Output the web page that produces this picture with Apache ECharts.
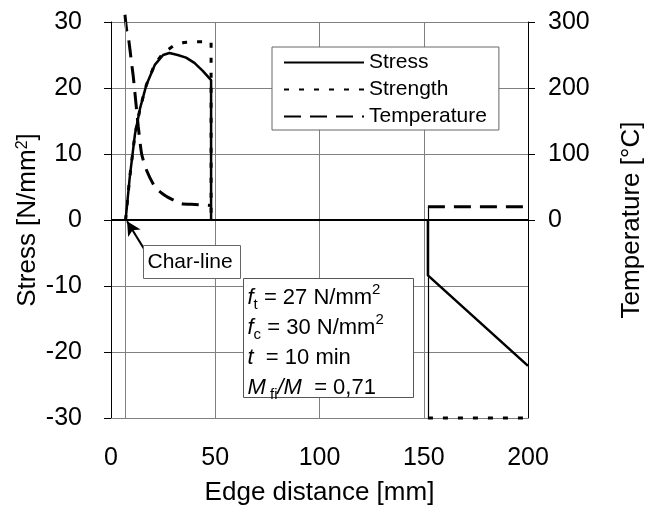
<!DOCTYPE html>
<html>
<head>
<meta charset="utf-8">
<script src="https://cdn.jsdelivr.net/npm/echarts@6/dist/echarts.min.js"></script>
<style>
  html, body { margin: 0; padding: 0; background: #fff; }
  #chart { width: 645px; height: 514px; }
</style>
</head>
<body>
<div id="chart"></div>
<script>
// edge distance [mm] / stress [N/mm2] / temperature [°C]
const stressLeftX = [7, 9, 11.5, 14, 17, 21, 25, 28, 32, 36, 40, 44, 48, 48]
const stressLeftY = [0, 6.5, 13, 17, 20.5, 23.5, 25, 25.3, 25, 24.6, 23.8, 22.6, 21.2, 0]
const stressRightX = [152, 152, 200]
const stressRightY = [0, -8.4, -22.1]

const strengthLeftX = [7, 9, 11.5, 14, 17, 21, 25, 30, 35, 40, 48, 48]
const strengthLeftY = [0, 6.5, 13, 17, 20.5, 23.6, 25.3, 26.4, 26.9, 27, 27, 0]
const strengthRightX = [152, 200]
const strengthRightY = [-30, -30]

const tempLeftX = [6.7, 7.5, 8.3, 9.9, 10.7, 12.3, 13.1, 14.7, 17.1, 21.1, 25.9, 30, 33.9, 40.3, 48]
const tempLeftY = [311, 288, 278, 237, 217, 166, 141, 100, 75, 50, 37, 30, 24.6, 23.5, 22]
const tempRightX = [152, 200]
const tempRightY = [20, 20]

const charLineX = 7
const tempTicks = [0, 100, 200, 300]

const FONT = 'Liberation Sans, Arial, sans-serif'
const GRID_COLOR = '#808080'

const pairs = (xs, ys) => xs.map((x, i) => [x, ys[i]])

const chart = echarts.init(document.getElementById('chart'))

const stressStyle = { color: '#000', width: 2.5, type: 'solid' }
const strengthStyle = { color: '#000', width: 3, type: [5, 10] }
const tempStyle = { color: '#000', width: 3, type: [17, 9] }

const option = {
  animation: false,
  textStyle: { fontFamily: FONT },
  grid: { left: 111, right: 117, top: 22, bottom: 96, outerBoundsMode: 'none' },
  legend: {
    data: ['Stress', 'Strength', 'Temperature'],
    orient: 'vertical',
    left: 272,
    top: 47,
    padding: [5, 12, 3, 11],
    itemWidth: 80,
    itemHeight: 14,
    itemGap: 6,
    backgroundColor: '#fff',
    borderColor: '#666',
    borderWidth: 1,
    borderRadius: 0,
    itemStyle: { opacity: 0 },
    textStyle: { fontSize: 21, color: '#000', fontFamily: FONT, lineHeight: 20 }
  },
  xAxis: {
    type: 'value',
    min: 0,
    max: 200,
    interval: 50,
    name: 'Edge distance [mm]',
    nameLocation: 'middle',
    nameGap: 62,
    nameMoveOverlap: false,
    nameTextStyle: { fontSize: 26, color: '#000', fontFamily: FONT },
    axisLine: { onZero: false, lineStyle: { color: GRID_COLOR, width: 1 } },
    axisTick: { show: false },
    axisLabel: { fontSize: 25, color: '#000', margin: 28, fontFamily: FONT },
    splitLine: { show: true, lineStyle: { color: GRID_COLOR, width: 1 } }
  },
  yAxis: [
    {
      type: 'value',
      min: -30,
      max: 30,
      interval: 10,
      name: 'Stress [N/mm{sup|2}]',
      nameLocation: 'middle',
      nameRotate: 90,
      nameGap: 70,
      nameMoveOverlap: false,
      nameTextStyle: {
        fontSize: 26, color: '#000', fontFamily: FONT,
        rich: { sup: { fontSize: 16, verticalAlign: 'top', lineHeight: 14, color: '#000' } }
      },
      axisLine: { show: true, onZero: false, lineStyle: { color: '#000', width: 1 } },
      axisTick: { show: true, inside: false, length: 7, lineStyle: { color: '#000' } },
      axisLabel: { fontSize: 25, color: '#000', margin: 29, fontFamily: FONT },
      splitLine: { show: true, lineStyle: { color: GRID_COLOR, width: 1 } }
    },
    {
      type: 'value',
      min: -300,
      max: 300,
      interval: 100,
      position: 'right',
      name: 'Temperature [°C]',
      nameLocation: 'middle',
      nameRotate: 90,
      nameGap: 91,
      nameMoveOverlap: false,
      nameTextStyle: { fontSize: 26, color: '#000', fontFamily: FONT },
      axisLine: { show: true, onZero: false, lineStyle: { color: '#000', width: 1 } },
      axisTick: { show: true, length: 7, customValues: tempTicks, lineStyle: { color: '#000' } },
      axisLabel: {
        fontSize: 25, color: '#000', margin: 20, fontFamily: FONT,
        customValues: tempTicks,
        formatter: v => (v < 0 ? '' : String(v))
      },
      splitLine: { show: false }
    }
  ],
  series: [
    {
      name: 'Stress',
      type: 'line',
      data: pairs(stressLeftX, stressLeftY),
      symbol: 'none',
      lineStyle: stressStyle,
      itemStyle: { color: '#000' },
      z: 5,
      markLine: {
        silent: true,
        symbol: 'none',
        label: { show: false },
        data: [
          { xAxis: charLineX, lineStyle: { color: GRID_COLOR, width: 1, type: 'solid' } },
          { yAxis: 0, lineStyle: { color: '#000', width: 2, type: 'solid' } },
          [
            { coord: [16.3, -4.6], symbol: 'none' },
            { coord: [7.7, -0.2], symbol: 'arrow', symbolSize: [11, 14] }
          ]
        ],
        lineStyle: { color: '#000', width: 2, type: 'solid' }
      }
    },
    {
      name: 'Stress',
      type: 'line',
      data: pairs(stressRightX, stressRightY),
      symbol: 'none',
      lineStyle: stressStyle,
      itemStyle: { color: '#000' },
      z: 5
    },
    {
      name: 'Strength',
      type: 'line',
      data: pairs(strengthLeftX, strengthLeftY),
      symbol: 'none',
      lineStyle: strengthStyle,
      itemStyle: { color: '#000' }
    },
    {
      name: 'Strength',
      type: 'line',
      data: pairs(strengthRightX, strengthRightY),
      symbol: 'none',
      lineStyle: strengthStyle,
      itemStyle: { color: '#000' },
      clip: false,
      // thin edge line of the right part, from the temperature level down to the strength level
      markLine: {
        silent: true,
        symbol: 'none',
        label: { show: false },
        lineStyle: { color: '#000', width: 1.2, type: 'solid' },
        data: [[
          { coord: [strengthRightX[0], tempRightY[0] / 10] },
          { coord: [strengthRightX[0], strengthRightY[0]] }
        ]]
      }
    },
    {
      name: 'Temperature',
      type: 'line',
      yAxisIndex: 1,
      data: pairs(tempLeftX, tempLeftY),
      symbol: 'none',
      smooth: 0.2,
      lineStyle: tempStyle,
      itemStyle: { color: '#000' },
      clip: false
    },
    {
      name: 'Temperature',
      type: 'line',
      yAxisIndex: 1,
      data: pairs(tempRightX, tempRightY),
      symbol: 'none',
      lineStyle: tempStyle,
      itemStyle: { color: '#000' }
    }
  ],
  graphic: [
    {
      type: 'group',
      left: 143,
      top: 245,
      z: 100,
      children: [
        {
          type: 'rect',
          z: 100,
          shape: { x: 0, y: 0, width: 97, height: 33 },
          style: { fill: '#fff', stroke: '#666', lineWidth: 1 }
        },
        {
          type: 'text',
          z: 101,
          x: 4,
          y: 17,
          style: { text: 'Char-line', font: '21px ' + FONT, fill: '#000', verticalAlign: 'middle' }
        }
      ]
    },
    {
      type: 'group',
      left: 243,
      top: 278,
      z: 100,
      children: [
        {
          type: 'rect',
          z: 100,
          shape: { x: 0, y: 0, width: 170, height: 119 },
          style: { fill: '#fff', stroke: '#555', lineWidth: 1 }
        },
        {
          type: 'text',
          z: 101,
          x: 4,
          y: 4,
          style: {
            text: '{i|f}{sub|t}{n| = 27 N/mm}{sup|2}\n' +
                  '{i|f}{sub|c}{n| = 30 N/mm}{sup|2}\n' +
                  '{i|t}{n|  = 10 min}\n' +
                  '{i|M}{sub| fi}{i|/M}{n|  = 0,71}',
            font: '22px ' + FONT,
            fill: '#000',
            rich: {
              n: { fontSize: 22, lineHeight: 30, fontFamily: FONT },
              i: { fontSize: 22, lineHeight: 30, fontStyle: 'italic', fontFamily: FONT },
              sub: { fontSize: 15, lineHeight: 19, verticalAlign: 'bottom', fontFamily: FONT },
              sup: { fontSize: 15, lineHeight: 14, verticalAlign: 'top', fontFamily: FONT }
            }
          }
        }
      ]
    }
  ]
}

chart.setOption(option)
window.addEventListener('resize', () => chart.resize())
</script>
</body>
</html>
